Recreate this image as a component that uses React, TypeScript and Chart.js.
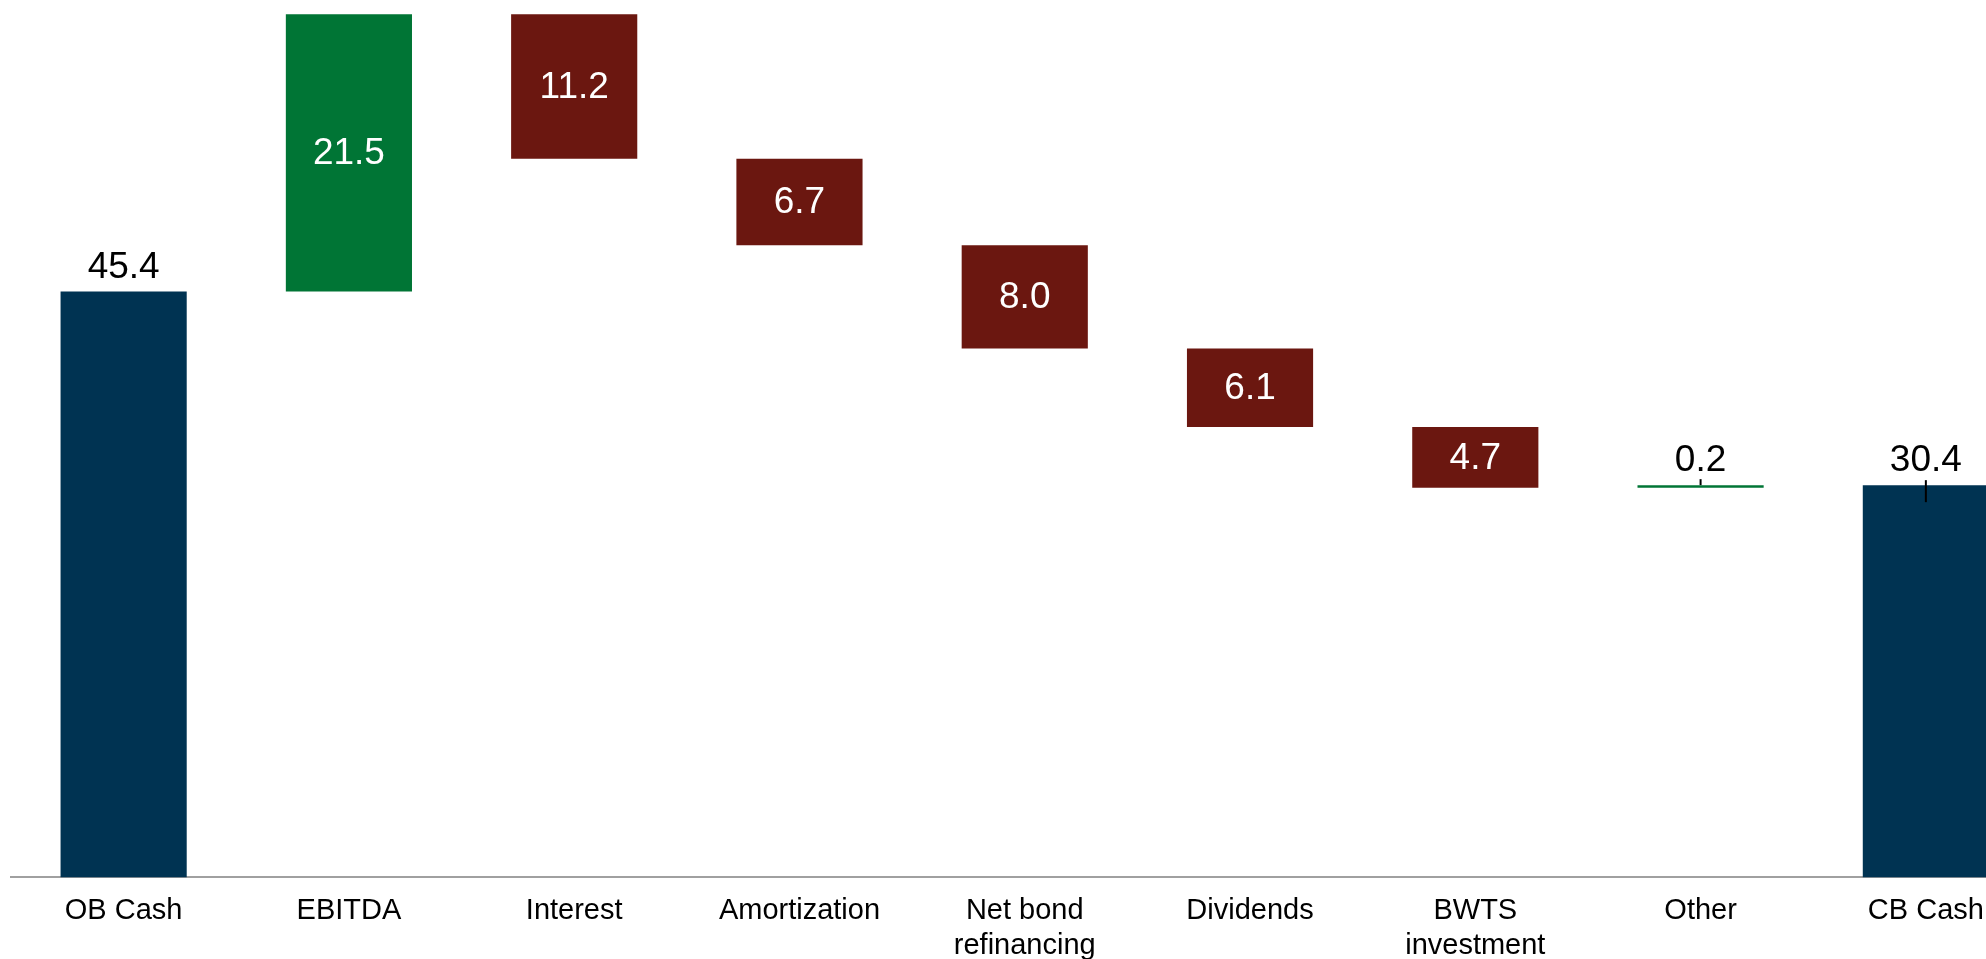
import React, { useEffect, useRef } from "react";
import { Chart, registerables } from "chart.js";

Chart.register(...registerables);

const categories: (string | string[])[] = [
  "OB Cash",
  "EBITDA",
  "Interest",
  "Amortization",
  ["Net bond", "refinancing"],
  "Dividends",
  ["BWTS", "investment"],
  "Other",
  "CB Cash",
];
const values = [45.4, 21.5, -11.2, -6.7, -8.0, -6.1, -4.7, 0.2, 30.4];
const kinds = ["total", "step", "step", "step", "step", "step", "step", "step", "total"];

const NAVY = "#003352";
const GREEN = "#007535";
const RED = "#6b1710";
const FONT = "'Liberation Sans', Arial, Helvetica, sans-serif";

function buildRanges(): [number, number][] {
  let running = 0;
  return values.map((v, i) => {
    if (kinds[i] === "total") {
      running = v;
      return [0, v];
    }
    const start = running;
    running = running + v;
    return [start, running];
  });
}

const labelPlugin = {
  id: "wfLabels",
  afterDatasetsDraw(chart: any) {
    const ctx = chart.ctx;
    const meta = chart.getDatasetMeta(0);
    ctx.save();
    ctx.font = `37px ${FONT}`;
    ctx.textAlign = "center";
    meta.data.forEach((el: any, i: number) => {
      const top = Math.min(el.y, el.base);
      const bottom = Math.max(el.y, el.base);
      const txt = Math.abs(values[i]).toFixed(1);
      const outside = kinds[i] === "total" || Math.abs(values[i]) < 1;
      if (outside) {
        ctx.fillStyle = "#000000";
        ctx.textBaseline = "alphabetic";
        ctx.fillText(txt, el.x, top - 14);
      } else {
        ctx.fillStyle = "#ffffff";
        ctx.textBaseline = "middle";
        ctx.fillText(txt, el.x, (top + bottom) / 2 + 1);
      }
    });
    // small black marker ticks seen on the last two bars
    ctx.strokeStyle = "#000000";
    ctx.lineWidth = 2;
    const o = meta.data[7];
    if (o) {
      const t = Math.min(o.y, o.base);
      ctx.beginPath();
      ctx.moveTo(o.x, t - 6);
      ctx.lineTo(o.x, t);
      ctx.stroke();
    }
    const c = meta.data[8];
    if (c) {
      const t = Math.min(c.y, c.base);
      ctx.beginPath();
      ctx.moveTo(c.x, t - 5);
      ctx.lineTo(c.x, t + 17);
      ctx.stroke();
    }
    ctx.restore();
  },
};

export default function App() {
  const ref = useRef<HTMLCanvasElement | null>(null);
  useEffect(() => {
    if (!ref.current) return;
    const ranges = buildRanges();
    const colors = values.map((v, i) =>
      kinds[i] === "total" ? NAVY : v >= 0 ? GREEN : RED
    );
    const chart = new Chart(ref.current, {
      type: "bar",
      data: {
        labels: categories as any,
        datasets: [
          {
            data: ranges as any,
            backgroundColor: colors,
            borderWidth: 0,
            borderSkipped: false,
            barPercentage: 0.56,
            categoryPercentage: 1,
          },
        ],
      },
      options: {
        responsive: false,
        animation: false,
        devicePixelRatio: 1,
        layout: { padding: { left: 11, right: 1.5, top: 0, bottom: 0 } },
        plugins: {
          legend: { display: false },
          tooltip: { enabled: false },
        },
        scales: {
          x: {
            grid: { display: false, drawTicks: false },
            border: { display: true, color: "#a0a0a0", width: 2 },
            ticks: {
              color: "#000000",
              padding: 16,
              maxRotation: 0,
              autoSkip: false,
              font: { family: FONT, size: 29, lineHeight: 1.2 },
            },
          },
          y: {
            display: false,
            min: 0,
            max: 68,
          },
        },
      },
      plugins: [labelPlugin],
    });
    return () => chart.destroy();
  }, []);
  return (
    <div
      style={{
        position: "fixed",
        left: 0,
        top: 0,
        width: "100vw",
        height: "100vh",
        overflow: "hidden",
        background: "#ffffff",
      }}
    >
      <canvas
        ref={ref}
        width={2040}
        height={979}
        style={{ position: "absolute", left: 0, top: 0, width: 2040, height: 979 }}
      />
    </div>
  );
}
